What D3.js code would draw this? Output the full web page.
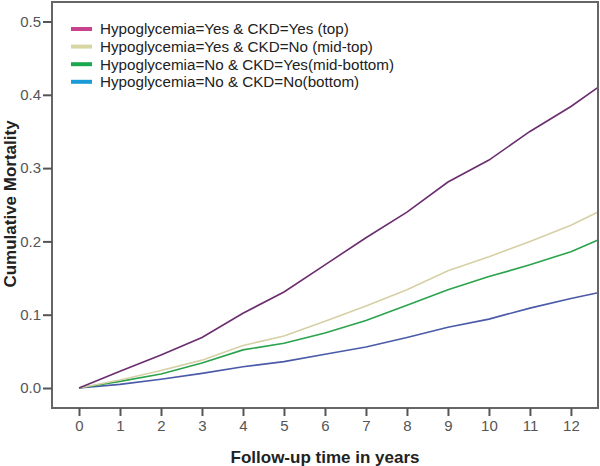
<!DOCTYPE html>
<html><head><meta charset="utf-8">
<script src="https://cdn.jsdelivr.net/npm/d3@7"></script>
<style>body{margin:0;background:#fff}svg{display:block}</style>
</head><body><svg id="c" width="600" height="466"></svg>
<script>
const years = [0,1,2,3,4,5,6,7,8,9,10,11,12,12.66];
const yesYes = [0,0.023,0.045,0.069,0.102,0.131,0.168,0.205,0.240,0.281,0.311,0.350,0.384,0.410];
const yesNo  = [0,0.011,0.024,0.038,0.058,0.071,0.091,0.112,0.134,0.160,0.179,0.200,0.222,0.240];
const noYes  = [0,0.009,0.019,0.034,0.052,0.061,0.075,0.092,0.113,0.134,0.152,0.168,0.186,0.202];
const noNo   = [0,0.005,0.012,0.020,0.029,0.036,0.046,0.056,0.069,0.083,0.094,0.109,0.122,0.130];
const seriesNames = ["Hypoglycemia=Yes & CKD=Yes (top)","Hypoglycemia=Yes & CKD=No (mid-top)","Hypoglycemia=No & CKD=Yes(mid-bottom)","Hypoglycemia=No & CKD=No(bottom)"];
const xTicks = [0,1,2,3,4,5,6,7,8,9,10,11,12];
const yTicks = [0,0.1,0.2,0.3,0.4,0.5];

const lineColors = ["#6b2d6f","#d6d0a6","#2aa34c","#4a5aa8"];
const legendColors = ["#c8428f","#d7d7a4","#1aa84f","#1a9bd7"];
const seriesVals = [yesYes,yesNo,noYes,noNo];

const svg = d3.select("#c");
const L=52,R=598,T=2,B=408;
const x = d3.scaleLinear().domain([0,12.66]).range([79,598]);
const y = d3.scaleLinear().domain([0,0.5]).range([388,21.5]);

const font = "Arial, 'Liberation Sans', sans-serif";

const line = d3.line().x(d=>x(d[0])).y(d=>y(d[1]));
[3,2,1,0].forEach(i=>{
  svg.append("path").datum(years.map((t,j)=>[t,seriesVals[i][j]]))
    .attr("d",line).attr("fill","none").attr("stroke",lineColors[i]).attr("stroke-width",1.6);
});

svg.append("rect").attr("x",L).attr("y",T).attr("width",R-L).attr("height",B-T)
  .attr("fill","none").attr("stroke","#666").attr("stroke-width",2);

const xa = svg.append("g").attr("transform",`translate(0,${B})`)
  .call(d3.axisBottom(x).tickValues(xTicks).tickSize(8).tickSizeOuter(0).tickFormat(d3.format("d")));
xa.select(".domain").remove();
xa.selectAll("line").attr("stroke","#555").attr("stroke-width",2);
xa.selectAll("text").attr("font-family",font).attr("font-size",15).attr("fill","#555").attr("dy","0.95em").attr("y",9);

const ya = svg.append("g").attr("transform",`translate(${L},0)`)
  .call(d3.axisLeft(y).tickValues(yTicks).tickSize(9).tickSizeOuter(0).tickFormat(d3.format(".1f")));
ya.select(".domain").remove();
ya.selectAll("line").attr("stroke","#555").attr("stroke-width",2);
ya.selectAll("text").attr("font-family",font).attr("font-size",15).attr("fill","#555").attr("x",-11);

svg.append("text").attr("x",325).attr("y",463).attr("text-anchor","middle")
  .attr("font-family",font).attr("font-weight","bold").attr("font-size",17).attr("fill","#222")
  .text("Follow-up time in years");
svg.append("text").attr("transform","translate(16,204) rotate(-90)").attr("text-anchor","middle")
  .attr("font-family",font).attr("font-weight","bold").attr("font-size",17).attr("fill","#222")
  .text("Cumulative Mortality");

const leg = svg.append("g");
seriesNames.forEach((n,i)=>{
  const yy = 29 + i*17.6;
  leg.append("line").attr("x1",71).attr("x2",92).attr("y1",yy).attr("y2",yy)
    .attr("stroke",legendColors[i]).attr("stroke-width",4);
  leg.append("text").attr("x",100).attr("y",yy).attr("dy","0.35em")
    .attr("font-family",font).attr("font-size",15.2).attr("fill","#222").text(n);
});
</script></body></html>
